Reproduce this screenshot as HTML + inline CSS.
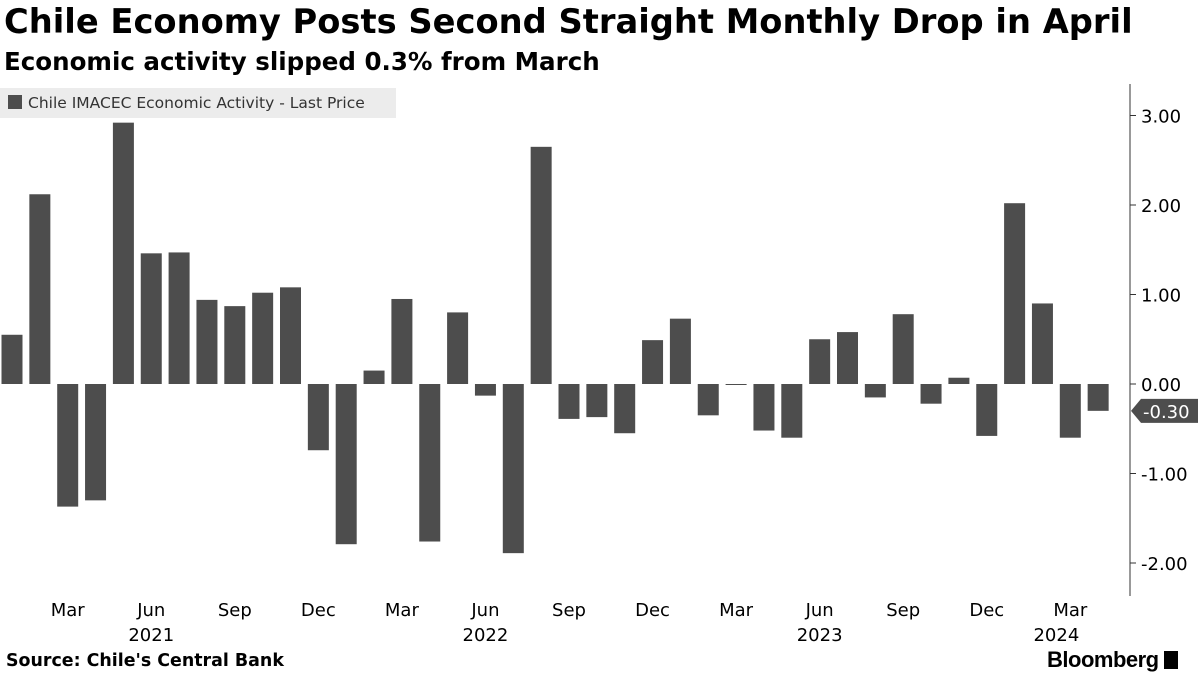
<!DOCTYPE html>
<html><head><meta charset="utf-8"><style>
body{margin:0;width:1200px;height:675px;background:#fff;font-family:"DejaVu Sans","Liberation Sans",sans-serif;overflow:hidden;position:relative}
.fit{position:absolute;white-space:nowrap;font-weight:bold;color:#000}
#title{left:4px;top:2px;font-size:35px}
#sub{left:4px;top:47px;font-size:23px}
#src{left:6px;top:651px;font-size:17px}
#bb{position:absolute;left:1047px;top:647px;font-size:22px;font-weight:bold;letter-spacing:-0.5px;font-family:"Liberation Sans",sans-serif}
</style></head><body>
<div id="title" class="fit">Chile Economy Posts Second Straight Monthly Drop in April</div>
<div id="sub" class="fit">Economic activity slipped 0.3% from March</div>
<svg id="chart" width="1200" height="675" style="position:absolute;left:0;top:0"></svg>
<div id="src" class="fit">Source: Chile's Central Bank</div>
<div id="bb">Bloomberg <span style="display:inline-block;width:14px;height:18px;background:#000;vertical-align:-2px"></span></div>
<script>
const months = ["Jan 2021","Feb 2021","Mar 2021","Apr 2021","May 2021","Jun 2021","Jul 2021","Aug 2021","Sep 2021","Oct 2021","Nov 2021","Dec 2021","Jan 2022","Feb 2022","Mar 2022","Apr 2022","May 2022","Jun 2022","Jul 2022","Aug 2022","Sep 2022","Oct 2022","Nov 2022","Dec 2022","Jan 2023","Feb 2023","Mar 2023","Apr 2023","May 2023","Jun 2023","Jul 2023","Aug 2023","Sep 2023","Oct 2023","Nov 2023","Dec 2023","Jan 2024","Feb 2024","Mar 2024","Apr 2024"];
const values = [0.55,2.12,-1.37,-1.30,2.92,1.46,1.47,0.94,0.87,1.02,1.08,-0.74,-1.79,0.15,0.95,-1.76,0.80,-0.13,-1.89,2.65,-0.39,-0.37,-0.55,0.49,0.73,-0.35,-0.01,-0.52,-0.60,0.50,0.58,-0.15,0.78,-0.22,0.07,-0.58,2.02,0.90,-0.60,-0.30];
const yTicks = [3,2,1,0,-1,-2];
const xTickLabels = ["Mar","Jun","Sep","Dec","Mar","Jun","Sep","Dec","Mar","Jun","Sep","Dec","Mar"];
const xTickIdx = [2,5,8,11,14,17,20,23,26,29,32,35,38];
const yearLabels = ["2021","2022","2023","2024"];
const yearIdx = [5,17,29,37.5];

[['title',1129],['sub',596],['src',278]].forEach(([id,w])=>{
  const e=document.getElementById(id);
  const fs=parseFloat(getComputedStyle(e).fontSize);
  const cw=e.getBoundingClientRect().width;
  e.style.fontSize=(fs*w/cw)+'px';
});

const NS="http://www.w3.org/2000/svg", svg=document.getElementById('chart');
const x = i => 12 + i*27.85;
const y = v => 384 - v*89.5;
function mk(t,a){const e=document.createElementNS(NS,t);for(const k in a)e.setAttribute(k,a[k]);svg.appendChild(e);return e;}

const lg=mk('rect',{x:0,y:88,width:396,height:30,fill:'#ececec'});


const ls=mk('rect',{x:8,y:95,width:14,height:14,fill:'#4d4d4d'});


const lt=mk('text',{x:28,y:108,'font-size':15.5,fill:'#333'});lt.textContent='Chile IMACEC Economic Activity - Last Price';



values.forEach((v,i)=>{
  const top=Math.min(y(v),y(0)), h=Math.max(Math.abs(y(v)-y(0)),1);
  const r=mk('rect',{x:x(i)-10.5,y:top,width:21,height:h,fill:'#4d4d4d'});
  
  
});

const ax=mk('line',{x1:1130,y1:84,x2:1130,y2:596,stroke:'#333','stroke-width':1});


yTicks.forEach(t=>{
  mk('line',{x1:1130,y1:y(t),x2:1136,y2:y(t),stroke:'#333'});
  const tx=mk('text',{x:1141,y:y(t)+7,'font-size':18,fill:'#000'});tx.textContent=t.toFixed(2);
  
  
});
const lastV=values[values.length-1], ly=y(lastV);
const mkr=mk('path',{d:`M1131,${ly} L1141,${ly-12} L1198,${ly-12} L1198,${ly+12} L1141,${ly+12} Z`,fill:'#4d4d4d'});


const mt=mk('text',{x:1143,y:ly+7,'font-size':18,fill:'#fff'});mt.textContent=lastV.toFixed(2);



xTickIdx.forEach((idx,k)=>{
  const t=mk('text',{x:x(idx),y:616,'font-size':18,'text-anchor':'middle',fill:'#000'});t.textContent=xTickLabels[k];
  
  
});
yearIdx.forEach((idx,k)=>{
  const t=mk('text',{x:x(idx),y:641,'font-size':18,'text-anchor':'middle',fill:'#000'});t.textContent=yearLabels[k];
  
  
});
</script>
</body></html>
